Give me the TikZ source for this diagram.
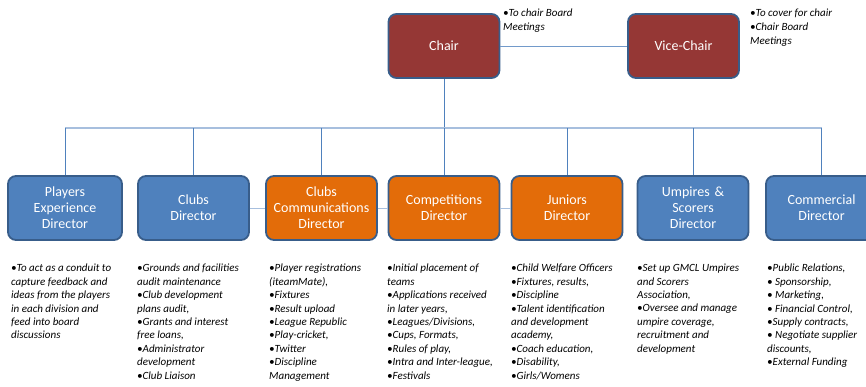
\documentclass[tikz,border=0pt]{standalone}
\usepackage{fontspec}
\setmainfont{Carlito}
\usetikzlibrary{positioning}

\definecolor{chairred}{HTML}{953735}
\definecolor{dirblue}{HTML}{4F81BD}
\definecolor{dirorange}{HTML}{E36C09}
\definecolor{rimblue}{HTML}{385D8A}
\definecolor{barblue}{HTML}{A7BFDE}

\begin{document}
\begin{tikzpicture}[x=1pt,y=-1pt,
  role/.style={draw=rimblue,line width=1.8pt,rounded corners=8pt,
    minimum width=111pt,minimum height=64pt,text width=105pt,inner sep=3pt,
    align=center,text=white,font=\fontsize{14}{16}\selectfont},
  chairbox/.style={role,fill=chairred},
  bluebox/.style={role,fill=dirblue},
  orangebox/.style={role,fill=dirorange},
  duty/.style={anchor=north west,inner sep=0pt,align=left,
    font=\itshape\fontsize{11}{13.4}\selectfont},
  link/.style={draw=dirblue,line width=0.8pt},
  bar/.style={draw=barblue,line width=1.6pt}]

  \clip (0,0) rectangle (866,387);

  % top
  \node[chairbox] (chair) at (444,46) {Chair};
  \node[chairbox] (vice) at (683.5,46) {Vice-Chair};
  \node[duty,font=\itshape\fontsize{11}{14}\selectfont] (chairnote) at (503,9)
    {•To chair Board\\Meetings};
  \node[duty,font=\itshape\fontsize{11}{14}\selectfont] (vicenote) at (750,9)
    {•To cover for chair\\•Chair Board\\Meetings};

  % directors
  \node[bluebox,minimum width=114pt] (players) at (65,208)
    {Players\\Experience\\Director};
  \node[bluebox] (clubs) at (193.5,208) {Clubs\\Director};
  \node[orangebox] (comms) at (321.5,208)
    {Clubs\\Communications\\Director};
  \node[orangebox] (comps) at (444,208) {Competitions\\Director};
  \node[orangebox] (juniors) at (567,208) {Juniors\\Director};
  \node[bluebox] (umpires) at (693,208) {Umpires \&\\Scorers\\Director};
  \node[bluebox] (commercial) at (821.5,208) {Commercial\\Director};

  % connectors
  \draw[link,draw=dirblue!80] (chair) -- (vice);
  \draw[link] (chair.south) -- ++(0,49) coordinate (hub);
  \draw[bar] (players.north |- hub) -- (commercial.north |- hub);
  \foreach \d in {players,clubs,comms,comps,juniors,umpires,commercial}
    \draw[link] (\d.north |- hub) -- (\d.north);
  \draw[link,draw=barblue] (clubs) -- (comms);
  \draw[link,draw=barblue] (comms) -- (comps);
  \draw[link,draw=barblue] (comps) -- (juniors);

  % duties
  \node[duty] (playersnote) at (11,264)
    {•To act as a conduit to\\capture feedback and\\ideas from the players\\in each division and\\feed into board\\discussions};
  \node[duty] (clubsnote) at (137,264)
    {•Grounds and facilities\\audit maintenance\\•Club development\\plans audit,\\•Grants and interest\\free loans,\\•Administrator\\development\\•Club Liaison};
  \node[duty] (commsnote) at (269,264)
    {•Player registrations\\(iteamMate),\\•Fixtures\\•Result upload\\•League Republic\\•Play-cricket,\\•Twitter\\•Discipline\\Management};
  \node[duty] (compsnote) at (387,264)
    {•Initial placement of\\teams\\•Applications received\\in later years,\\•Leagues/Divisions,\\•Cups, Formats,\\•Rules of play,\\•Intra and Inter-league,\\•Festivals};
  \node[duty] (juniorsnote) at (511,264)
    {•Child Welfare Officers\\•Fixtures, results,\\•Discipline\\•Talent identification\\and development\\academy,\\•Coach education,\\•Disability,\\•Girls/Womens};
  \node[duty] (umpiresnote) at (637,264)
    {•Set up GMCL Umpires\\and Scorers\\Association,\\•Oversee and manage\\umpire coverage,\\recruitment and\\development};
  \node[duty] (commercialnote) at (767,264)
    {•Public Relations,\\• Sponsorship,\\• Marketing,\\• Financial Control,\\•Supply contracts,\\• Negotiate supplier\\discounts,\\•External Funding};
\end{tikzpicture}
\end{document}
